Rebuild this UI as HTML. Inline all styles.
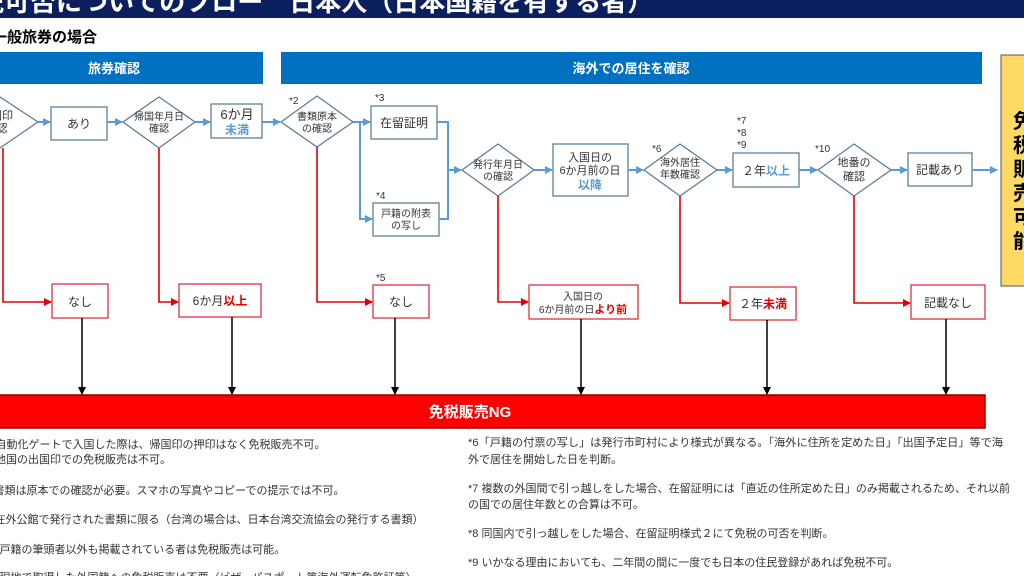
<!DOCTYPE html>
<html><head><meta charset="utf-8"><style>
html,body{margin:0;padding:0;background:#fff;}
svg{display:block;font-family:"Liberation Sans","Noto Sans CJK JP",sans-serif;}
</style></head><body>
<svg width="1024" height="576" viewBox="0 0 1024 576" xmlns="http://www.w3.org/2000/svg">
<defs>
<marker id="ab" markerWidth="8" markerHeight="8" refX="7" refY="4" orient="auto" markerUnits="userSpaceOnUse"><path d="M0,0 L8,4 L0,8 z" fill="#5b9bd5"/></marker>
<marker id="ar" markerWidth="8" markerHeight="8" refX="7" refY="4" orient="auto" markerUnits="userSpaceOnUse"><path d="M0,0 L8,4 L0,8 z" fill="#e00000"/></marker>
<marker id="ak" markerWidth="8" markerHeight="8" refX="7" refY="4" orient="auto" markerUnits="userSpaceOnUse"><path d="M0,0 L8,4 L0,8 z" fill="#000"/></marker>
</defs>
<rect x="0" y="0" width="1024" height="18" fill="#0b1f5e"/>
<text x="-48" y="11" font-size="26" font-weight="bold" fill="#fff">免税可否についてのフロー　日本人（日本国籍を有する者）</text>
<text x="-8" y="42" font-size="15" font-weight="bold" fill="#000">一般旅券の場合</text>
<rect x="0" y="52" width="263" height="32" fill="#0070c0"/>
<text x="114" y="73" font-size="13" font-weight="bold" fill="#fff" text-anchor="middle">旅券確認</text>
<rect x="281" y="52" width="701" height="32" fill="#0070c0"/>
<text x="631" y="73" font-size="13" font-weight="bold" fill="#fff" text-anchor="middle">海外での居住を確認</text>
<rect x="1001" y="55" width="30" height="231" fill="#ffd966" stroke="#555" stroke-width="1"/>
<text font-size="20" font-weight="bold" fill="#000"><tspan x="1013" y="128">免</tspan><tspan x="1013" y="152">税</tspan><tspan x="1013" y="176">販</tspan><tspan x="1013" y="200">売</tspan><tspan x="1013" y="224">可</tspan><tspan x="1013" y="248">能</tspan></text>

<g fill="#fff" stroke="#5b7f9b" stroke-width="1.3">
<polygon points="0,97 38,122 0,148 -38,122"/>
<polygon points="159,97 195,122 159,148 123,122"/>
<polygon points="317,96 353,122 317,147 281,122"/>
<polygon points="498,144 534,170 498,196 462,170"/>
<polygon points="680,144 717,170 680,196 644,170"/>
<polygon points="854,144 891,170 854,196 818,170"/>
<rect x="51" y="107" width="56" height="33"/>
<rect x="211" y="104" width="51" height="34"/>
<rect x="371" y="106" width="66" height="33"/>
<rect x="373" y="203" width="66" height="33"/>
<rect x="553" y="144" width="75" height="52"/>
<rect x="733" y="153" width="66" height="34"/>
<rect x="908" y="153" width="64" height="33"/>
</g>
<g fill="#fff" stroke="#d9363e" stroke-width="1.3">
<rect x="52" y="284" width="56" height="34"/>
<rect x="179" y="284" width="82" height="33"/>
<rect x="373" y="285" width="56" height="33"/>
<rect x="529" y="285" width="109" height="34"/>
<rect x="730" y="287" width="66" height="33"/>
<rect x="911" y="285" width="74" height="34"/>
</g>

<g stroke="#5b9bd5" stroke-width="2" fill="none">
<line x1="38" y1="122" x2="50" y2="122" marker-end="url(#ab)"/>
<line x1="107" y1="122" x2="122" y2="122" marker-end="url(#ab)"/>
<line x1="195" y1="122" x2="210" y2="122" marker-end="url(#ab)"/>
<line x1="262" y1="122" x2="280" y2="122" marker-end="url(#ab)"/>
<polyline points="353,122 360,122 360,219 372,219" marker-end="url(#ab)"/>
<line x1="360" y1="122" x2="370" y2="122" marker-end="url(#ab)"/>
<polyline points="437,122 448,122 448,219 439,219"/>
<line x1="448" y1="170" x2="461" y2="170" marker-end="url(#ab)"/>
<line x1="534" y1="170" x2="552" y2="170" marker-end="url(#ab)"/>
<line x1="628" y1="170" x2="643" y2="170" marker-end="url(#ab)"/>
<line x1="717" y1="170" x2="732" y2="170" marker-end="url(#ab)"/>
<line x1="799" y1="170" x2="817" y2="170" marker-end="url(#ab)"/>
<line x1="891" y1="170" x2="907" y2="170" marker-end="url(#ab)"/>
<line x1="972" y1="170" x2="997" y2="170" marker-end="url(#ab)"/>
</g>
<g stroke="#e00000" stroke-width="1.6" fill="none">
<polyline points="3,148 3,302 51,302" marker-end="url(#ar)"/>
<polyline points="159,148 159,302 178,302" marker-end="url(#ar)"/>
<polyline points="317,147 317,302 372,302" marker-end="url(#ar)"/>
<polyline points="498,196 498,302 528,302" marker-end="url(#ar)"/>
<polyline points="680,196 680,303 729,303" marker-end="url(#ar)"/>
<polyline points="854,196 854,303 910,303" marker-end="url(#ar)"/>
</g>
<g stroke="#000" stroke-width="1.5">
<line x1="82" y1="318" x2="82" y2="394" marker-end="url(#ak)"/>
<line x1="232" y1="317" x2="232" y2="394" marker-end="url(#ak)"/>
<line x1="395" y1="318" x2="395" y2="394" marker-end="url(#ak)"/>
<line x1="581" y1="319" x2="581" y2="394" marker-end="url(#ak)"/>
<line x1="767" y1="320" x2="767" y2="394" marker-end="url(#ak)"/>
<line x1="946" y1="319" x2="946" y2="394" marker-end="url(#ak)"/>
</g>
<rect x="-2" y="395" width="987" height="33" fill="#ff0000" stroke="#8b0000" stroke-width="1.5"/>
<text x="470" y="417" font-size="15" font-weight="bold" fill="#fff" text-anchor="middle">免税販売NG</text>

<g fill="#333" text-anchor="middle">
<text x="2" y="119" font-size="11">国印</text><text x="2" y="132" font-size="11">認</text>
<text x="79" y="128" font-size="12">あり</text>
<text x="159" y="120" font-size="10">帰国年月日</text><text x="159" y="132" font-size="10">確認</text>
<text x="237" y="119" font-size="13">6か月</text><text x="237" y="134" font-size="12" font-weight="bold" fill="#5b9bd5">未満</text>
<text x="317" y="120" font-size="10">書類原本</text><text x="317" y="132" font-size="10">の確認</text>
<text x="404" y="127" font-size="12">在留証明</text>
<text x="406" y="217" font-size="10">戸籍の附表</text><text x="406" y="229" font-size="10">の写し</text>
<text x="498" y="168" font-size="10">発行年月日</text><text x="498" y="180" font-size="10">の確認</text>
<text x="590" y="161" font-size="11">入国日の</text><text x="590" y="174" font-size="11">6か月前の日</text><text x="590" y="189" font-size="12" font-weight="bold" fill="#5b9bd5">以降</text>
<text x="680" y="166" font-size="10">海外居住</text><text x="680" y="178" font-size="10">年数確認</text>
<text x="766" y="175" font-size="12">２年<tspan font-weight="bold" fill="#5b9bd5">以上</tspan></text>
<text x="854" y="166" font-size="11">地番の</text><text x="854" y="180" font-size="11">確認</text>
<text x="940" y="174" font-size="12">記載あり</text>
<text x="80" y="306" font-size="12">なし</text>
<text x="220" y="305" font-size="12">6か月<tspan font-weight="bold" fill="#e00000">以上</tspan></text>
<text x="401" y="306" font-size="12">なし</text>
<text x="583" y="300" font-size="10">入国日の</text><text x="583" y="313" font-size="10">6か月前の日<tspan font-size="11" font-weight="bold" fill="#e00000">より前</tspan></text>
<text x="763" y="308" font-size="12">２年<tspan font-weight="bold" fill="#e00000">未満</tspan></text>
<text x="948" y="307" font-size="12">記載なし</text>
</g>
<g fill="#333" font-size="10">
<text x="289" y="104">*2</text><text x="375" y="101">*3</text><text x="376" y="199">*4</text><text x="376" y="281">*5</text>
<text x="652" y="152">*6</text><text x="737" y="124">*7</text><text x="737" y="136">*8</text><text x="737" y="148">*9</text><text x="815" y="152">*10</text>
</g>
<g fill="#333" font-size="11">
<text x="-18" y="448">*1 自動化ゲートで入国した際は、帰国印の押印はなく免税販売不可。</text>
<text x="-5" y="463">他国の出国印での免税販売は不可。</text>
<text x="-20" y="494">*2 書類は原本での確認が必要。スマホの写真やコピーでの提示では不可。</text>
<text x="-19" y="523">*3 在外公館で発行された書類に限る（台湾の場合は、日本台湾交流協会の発行する書類）</text>
<text x="-14" y="553">*4 戸籍の筆頭者以外も掲載されている者は免税販売は可能。</text>
<text x="-14" y="581">*5 現地で取得した外国籍への免税販売は不要（ビザ、パスポート等海外運転免許証等）</text>
<text x="468" y="446" textLength="535" lengthAdjust="spacingAndGlyphs">*6「戸籍の付票の写し」は発行市町村により様式が異なる。「海外に住所を定めた日」「出国予定日」等で海</text>
<text x="468" y="463">外で居住を開始した日を判断。</text>
<text x="468" y="492" textLength="542" lengthAdjust="spacingAndGlyphs">*7 複数の外国間で引っ越しをした場合、在留証明には「直近の住所定めた日」のみ掲載されるため、それ以前</text>
<text x="468" y="508">の国での居住年数との合算は不可。</text>
<text x="468" y="537">*8 同国内で引っ越しをした場合、在留証明様式２にて免税の可否を判断。</text>
<text x="468" y="566">*9 いかなる理由においても、二年間の間に一度でも日本の住民登録があれば免税不可。</text>
</g>
</svg>
</body></html>
